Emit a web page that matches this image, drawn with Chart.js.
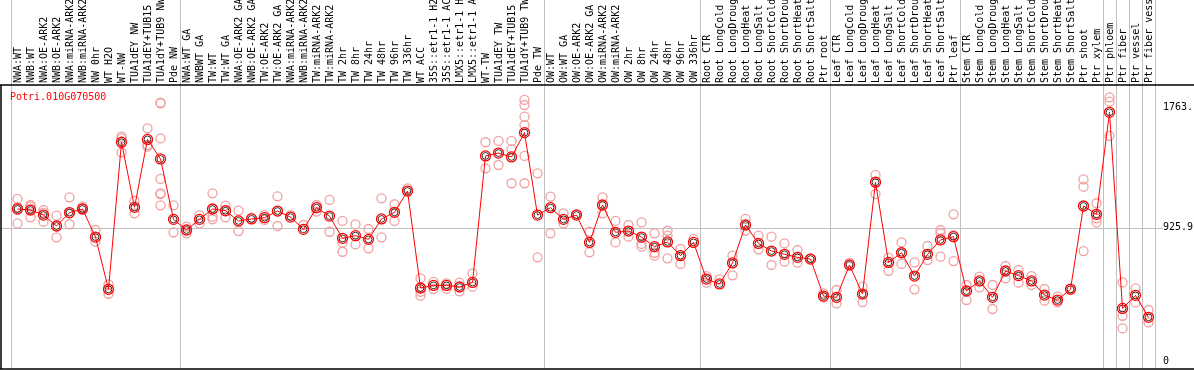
<!DOCTYPE html>
<html>
<head>
<meta charset="utf-8">
<script src="https://cdn.jsdelivr.net/npm/chart.js@4"></script>
<style>
  html, body { margin: 0; padding: 0; background: #fff; }
  #wrap { width: 1194px; height: 370px; }
</style>
</head>
<body>
<div id="wrap"><canvas id="exprChart"></canvas></div>
<script>
const geneId = "Potri.010G070500";

const categories = [
  "NWA:WT", "NWB:WT", "NWA:OE-ARK2", "NWB:OE-ARK2", "NWA:miRNA-ARK2", "NWB:miRNA-ARK2",
  "NW 0hr", "WT H2O", "WT-NW", "TUA1dEY NW", "TUA1dEY+TUB15 NW", "TUA1dY+TUB9 NW", "Pde NW",
  "NWA:WT GA", "NWBWT GA", "TW:WT", "TW:WT GA", "NWA:OE-ARK2 GA", "NWB:OE-ARK2 GA",
  "TW:OE-ARK2", "TW:OE-ARK2 GA", "NWA:miRNA-ARK2 GA", "NWB:miRNA-ARK2 GA", "TW:miRNA-ARK2",
  "TW:miRNA-ARK2 GA", "TW 2hr", "TW 8hr", "TW 24hr", "TW 48hr", "TW 96hr", "TW 336hr",
  "WT ACC", "35S::etr1-1 H2O", "35S::etr1-1 ACC", "LMX5::etr1-1 H2O", "LMX5::etr1-1 ACC",
  "WT-TW", "TUA1dEY TW", "TUA1dEY+TUB15 TW", "TUA1dY+TUB9 TW", "Pde TW",
  "OW:WT", "OW:WT GA", "OW:OE-ARK2", "OW:OE-ARK2 GA", "OW:miRNA-ARK2", "OW:miRNA-ARK2 GA",
  "OW 2hr", "OW 8hr", "OW 24hr", "OW 48hr", "OW 96hr", "OW 336hr",
  "Root CTR", "Root LongCold", "Root LongDrought", "Root LongHeat", "Root LongSalt",
  "Root ShortCold", "Root ShortDrought", "Root ShortHeat", "Root ShortSalt", "Ptr root",
  "Leaf CTR", "Leaf LongCold", "Leaf LongDrought", "Leaf LongHeat", "Leaf LongSalt",
  "Leaf ShortCold", "Leaf ShortDrought", "Leaf ShortHeat", "Leaf ShortSalt", "Ptr leaf",
  "Stem CTR", "Stem LongCold", "Stem LongDrought", "Stem LongHeat", "Stem LongSalt",
  "Stem ShortCold", "Stem ShortDrought", "Stem ShortHeat", "Stem ShortSalt", "Ptr shoot",
  "Ptr xylem", "Ptr phloem", "Ptr fiber", "Ptr vessel", "Ptr fiber vessel"
];

// mean expression per sample
const means = [
  1056, 1049, 1014, 938, 1031, 1056, 861, 498, 1520, 1068, 1540, 1404, 984,
  910, 984, 1056, 1044, 973, 987, 996, 1042, 1000, 915, 1065, 1007, 852, 871, 845,
  987, 1033, 1181, 507, 525, 525, 514, 546, 1425, 1445, 1418, 1587, 1014,
  1065, 984, 1014, 824, 1084, 894, 903, 861, 794, 827, 732, 824,
  569, 535, 681, 945, 817, 764, 741, 720, 708, 451,
  442, 667, 465, 1242, 685, 752, 590, 741, 841, 864,
  486, 556, 442, 625, 593, 556, 458, 423, 498, 1077, 1019,
  1728, 365, 456, 303
];

// individual replicates per sample
const replicates = [
  [1126, 1068, 956], [1084, 1072, 998], [1049, 1031, 968], [1010, 859], [1137, 1026, 950],
  [1072, 1061], [910, 829], [532, 467], [1559, 1547, 1450], [1112, 1026], [1617, 1501, 1489],
  [1795, 1791, 1547, 1265, 1165, 1160, 1082], [1082, 894],
  [933, 887], [1014, 956], [1165, 1003, 984], [1079, 998], [1045, 903], [996], [1014, 980],
  [1144, 938], [1014], [945], [1084, 1038], [1119, 898], [973, 822, 759], [949, 810],
  [917, 783], [1130, 859], [1089, 973], [1200], [574, 481, 454], [549, 500], [539, 502],
  [544, 484], [609, 516], [1520, 1339], [1529, 1362], [1529, 1471, 1235],
  [1814, 1779, 1698, 1640, 1425, 1235], [1304, 720],
  [1142, 887], [1026, 956], [1021], [898, 755], [1137, 1026], [973, 824], [945, 864],
  [963, 813, 794], [887, 752, 732], [905, 871, 713], [778, 674], [847],
  [590, 544], [567], [732, 595], [987, 905], [871, 776], [864, 667], [817, 690],
  [771, 683], [713], [470, 442],
  [493, 400], [683], [516, 409], [1293, 1160], [718, 627], [824, 674], [685, 498],
  [799, 701], [910, 887, 725], [1019, 875, 694],
  [528, 423], [586, 511], [528, 361], [660, 574], [632, 544], [590, 528], [500, 419],
  [447, 407], [504], [1262, 1211, 764], [1096, 991, 963],
  [1832, 1802, 1564], [546, 314, 226], [504, 407], [354, 268]
];

const yTicks = [0, 925.9, 1763];
const yTickLabels = ["0", "925.9", "1763."];
// sample index where each tissue block starts (last = end)
const groupBreaks = [0, 13, 41, 53, 63, 73, 84, 85, 86, 87, 88];

const monoFont = { family: "'DejaVu Sans Mono', monospace", size: 10 };

const repPoints = replicates.flatMap((reps, i) => reps.map(v => ({ x: categories[i], y: v })));

const framePlugin = {
  id: "frame",
  beforeDatasetsDraw(chart) {
    const { ctx, chartArea, scales: { x, y } } = chart;
    const half = (x.getPixelForValue(1) - x.getPixelForValue(0)) / 2;
    ctx.save();
    ctx.lineWidth = 1;
    ctx.strokeStyle = "#c0c0c0";
    ctx.beginPath();
    groupBreaks.forEach(i => {
      const px = Math.round(x.getPixelForValue(i) - half) + 0.5;
      ctx.moveTo(px, 0);
      ctx.lineTo(px, chartArea.bottom);
    });
    const gy = Math.round(y.getPixelForValue(yTicks[1])) + 0.5;
    ctx.moveTo(1, gy);
    ctx.lineTo(chartArea.right + 8, gy);
    ctx.stroke();

    ctx.strokeStyle = "#000";
    ctx.lineWidth = 1.5;
    ctx.beginPath();
    ctx.moveTo(0, chartArea.top);
    ctx.lineTo(chart.width, chartArea.top);
    ctx.moveTo(1, chartArea.top);
    ctx.lineTo(1, chartArea.bottom);
    ctx.moveTo(0, chartArea.bottom);
    ctx.lineTo(chart.width, chartArea.bottom);
    ctx.stroke();
    ctx.restore();
  },
  afterDraw(chart) {
    const { ctx, chartArea } = chart;
    ctx.save();
    ctx.fillStyle = "#ff0000";
    ctx.font = "10px 'DejaVu Sans Mono', monospace";
    ctx.textBaseline = "middle";
    ctx.fillText(geneId, 10, chartArea.top + 12);
    ctx.restore();
  }
};

new Chart(document.getElementById("exprChart"), {
  type: "line",
  data: {
    labels: categories,
    datasets: [
      {
        label: "mean",
        data: means,
        borderColor: "#ff0000",
        borderWidth: 1,
        pointStyle: "circle",
        pointRadius: 5,
        pointBorderWidth: 1.3,
        pointBorderColor: "#ff0000",
        pointBackgroundColor: "transparent",
        tension: 0,
        fill: false
      },
      {
        label: "mean core",
        data: means,
        showLine: false,
        pointRadius: 3.4,
        pointBorderWidth: 0.8,
        pointBorderColor: "#000000",
        pointBackgroundColor: "transparent"
      },
      {
        label: "replicates",
        data: repPoints,
        showLine: false,
        pointRadius: 4.5,
        pointBorderWidth: 1.3,
        pointBorderColor: "#f0a0a0",
        pointBackgroundColor: "transparent"
      }
    ]
  },
  options: {
    responsive: true,
    maintainAspectRatio: false,
    animation: false,
    layout: { autoPadding: false, padding: { left: 11, right: 0, top: 0, bottom: 1 } },
    plugins: {
      legend: { display: false },
      tooltip: { enabled: false }
    },
    scales: {
      x: {
        type: "category",
        position: "top",
        offset: true,
        grid: { display: false, drawTicks: false },
        border: { display: false },
        afterFit(scale) {
          scale.height = 85;
          scale.paddingLeft = 0;
          scale.paddingRight = 0;
        },
        ticks: {
          autoSkip: false,
          minRotation: 90,
          maxRotation: 90,
          padding: 2,
          labelOffset: 13,
          color: "#000",
          font: monoFont
        }
      },
      y: {
        position: "right",
        min: -56,
        max: 1918,
        grid: { display: false, drawTicks: false },
        border: { display: false },
        afterFit(scale) {
          scale.width = 39;
          scale.paddingTop = 0;
          scale.paddingBottom = 0;
        },
        afterBuildTicks(scale) { scale.ticks = yTicks.map(v => ({ value: v })); },
        ticks: {
          padding: 8,
          color: "#000",
          font: monoFont,
          callback: (value, index) => yTickLabels[index]
        }
      }
    }
  },
  plugins: [framePlugin]
});
</script>
</body>
</html>
